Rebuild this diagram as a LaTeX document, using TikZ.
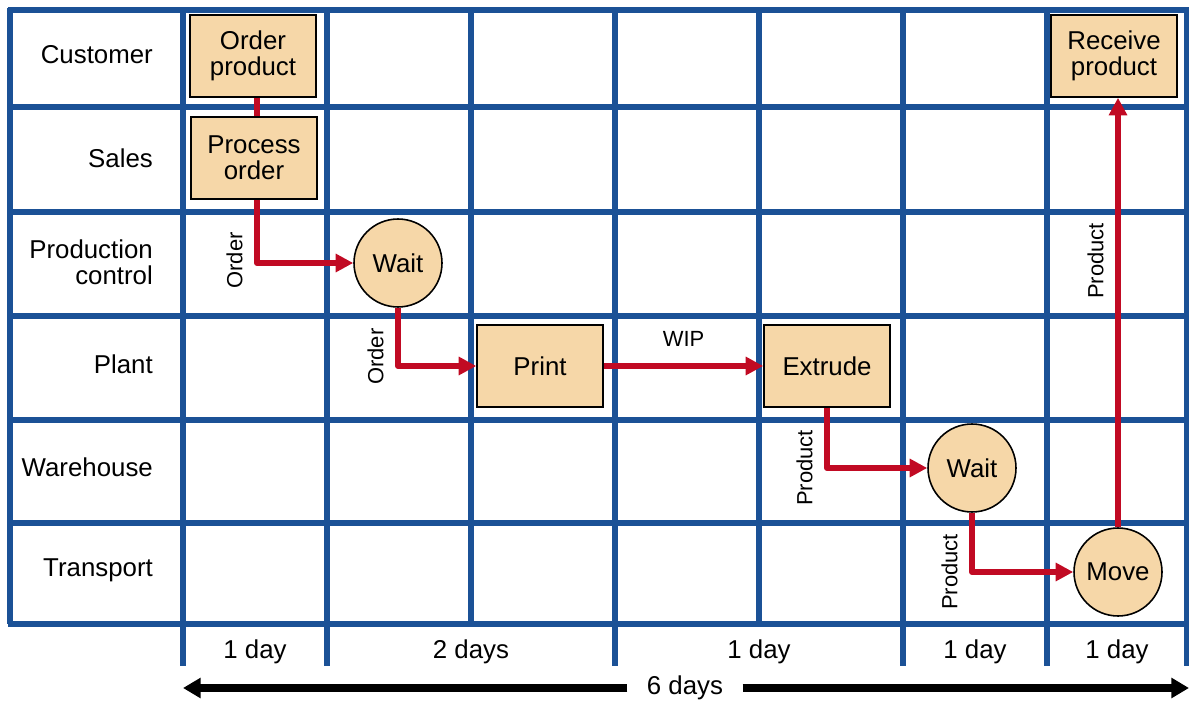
\documentclass[tikz,border=0pt]{standalone}
\usepackage{fontspec}
\setmainfont{Liberation Sans}
\usepackage{tikz}
\definecolor{laneblue}{RGB}{27,81,150}
\definecolor{flowred}{RGB}{193,10,35}
\definecolor{boxtan}{RGB}{246,215,168}
\usetikzlibrary{arrows.meta, shapes}
\tikzstyle{flow} = [draw=flowred, line width=3.5pt, line join=round, -{Triangle[length=10pt,width=10pt]}]
\tikzstyle{span} = [draw=black, line width=4pt, -{Triangle[length=10pt,width=11pt]}]

\begin{document}
\begin{tikzpicture}[x=0.02cm, y=-0.02cm,
		activity/.style={draw, line width=0.9pt, fill=boxtan, minimum width=2.52cm, minimum height=1.64cm, align=center, font=\fontsize{14.7}{15}\selectfont},
		event/.style={draw, line width=0.9pt, fill=boxtan, circle, minimum size=1.76cm, font=\fontsize{14.7}{15}\selectfont},
		lane/.style={anchor=east, align=right, font=\fontsize{14.7}{15}\selectfont},
		tag/.style={font=\fontsize{12.5}{13}\selectfont},
		vtag/.style={tag, rotate=90, anchor=south, inner sep=6.5pt}]
	\useasboundingbox (0,0) rectangle (1189,702);
	% Raster
	\begin{scope}[draw=laneblue, line width=0.11cm]
		\foreach \y in {10,107,212,316,420,523,624}
			\draw (7.8,\y) -- (1189.2,\y);
		\foreach \x in {10,183,327,471,615,759,903,1047,1187}
			\draw (\x,7.8) -- (\x,624);
		\foreach \x in {183,327,615,903,1047,1187}
			\draw (\x,624) -- (\x,666);
	\end{scope}
	% Zeilen
	\foreach \y/\txt [count=\i] in {55/Customer, 158/Sales, 262/{Production\\control}, 364/Plant, 467/Warehouse, 570/Transport}
		\node[lane] (lane\i) at (159,\y) {\txt};
	% Ablauf
	\node[activity] (order) at (253,56) {Order\\product};
	\node[activity] (process) at (254,158) {Process\\order};
	\node[event] (wait1) at (398,263) {Wait};
	\node[activity] (print) at (540,366) {Print};
	\node[activity] (extrude) at (827,366) {Extrude};
	\node[event] (wait2) at (972,468) {Wait};
	\node[event] (move) at (1118,572) {Move};
	\node[activity] (receive) at (1114,56) {Receive\\product};
	\draw[flow, -] (order.south -| 257,0) -- (process.north -| 257,0);
	\draw[flow] (process.south -| 257,0) |- node[vtag, pos=0.48] {Order} (wait1.west);
	\draw[flow] (wait1.south) |- node[vtag, pos=0.42] {Order} (print.west);
	\draw[flow] (print.east) -- node[tag, above=6pt] {WIP} (extrude.west);
	\draw[flow] (extrude.south) |- node[vtag, pos=0.5] {Product} (wait2.west);
	\draw[flow] (wait2.south) |- node[vtag, pos=0.5] {Product} (move.west);
	\draw[flow] (move.north) -- node[vtag, pos=0.62] {Product} (move.north |- receive.south);
	% Dauer
	\foreach \x/\txt [count=\i] in {255/1 day, 471/2 days, 759/1 day, 975/1 day, 1117/1 day}
		\node[lane, anchor=center] (day\i) at (\x,652) {\txt};
	\node[lane, anchor=center, inner xsep=11pt] (total) at (685,688) {6 days};
	\coordinate (tl) at (183,688);
	\coordinate (tr) at (1189,688);
	\draw[span] (total.west) -- (tl);
	\draw[span] (total.east) -- (tr);
\end{tikzpicture}
\end{document}
